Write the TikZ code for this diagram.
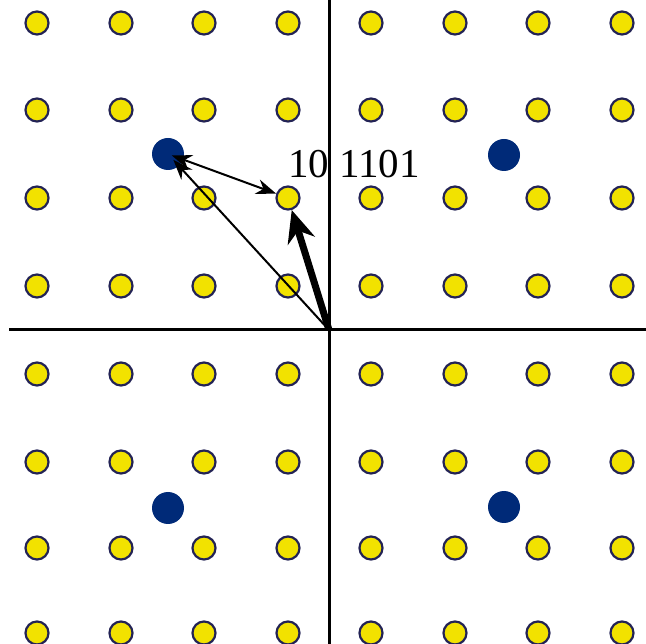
\documentclass[tikz,border=0pt]{standalone}
\usepackage{fontspec}
\setmainfont{Liberation Serif}
\usetikzlibrary{arrows.meta}
\definecolor{dotyellow}{RGB}{242,226,0}
\definecolor{dotedge}{RGB}{35,35,85}
\definecolor{navy}{RGB}{0,42,120}
\tikzset{
  ydot/.style={circle,fill=dotyellow,draw=dotedge,line width=2.2pt,minimum size=23pt,inner sep=0pt},
  bdot/.style={circle,fill=navy,minimum size=32pt,inner sep=0pt},
  axis/.style={line width=3pt,black},
  thinarrow/.style={line width=2pt,-{Stealth[length=20pt,width=15pt]}},
  thinboth/.style={line width=2pt,{Stealth[length=20pt,width=15pt]}-{Stealth[length=20pt,width=15pt]}},
  thickarrow/.style={line width=7pt,-{Stealth[length=32pt,width=28pt]}}
}
\begin{document}
\begin{tikzpicture}[x=1pt,y=-1pt]
\useasboundingbox (0,0) rectangle (646,644);
% axes
\coordinate (vtop) at (329,0);
\coordinate (vbot) at (329,644);
\coordinate (hl) at (9,330);
\coordinate (hr) at (646,330);
\coordinate (O) at (329,330);
\draw[axis] (vtop) -- (vbot);
\draw[axis] (hl) -- (hr);
% yellow lattice
\foreach \x [count=\i] in {37,121,204,288,371,455,538,622}{
  \foreach \y [count=\j] in {23,110,198,286,374,462,548,633}{
    \node[ydot] (y-\i-\j) at (\x,\y) {};
  }
}
% blue dots
\node[bdot] (b1) at (168,154) {};
\node[bdot] (b2) at (504,155) {};
\node[bdot] (b3) at (168,508) {};
\node[bdot] (b4) at (504,507) {};
% label
\node[anchor=base west,inner sep=0pt,font=\fontsize{41pt}{41pt}\selectfont] (lbl) at (288,178) {10 1101};
% arrows
\draw[thinarrow,shorten >=8pt] (O) -- (b1.center);
\draw[thinboth,shorten <=4pt] (b1.center) -- (y-4-3);
\draw[thickarrow,shorten <=1pt] (O) -- (y-4-3);
\end{tikzpicture}
\end{document}
